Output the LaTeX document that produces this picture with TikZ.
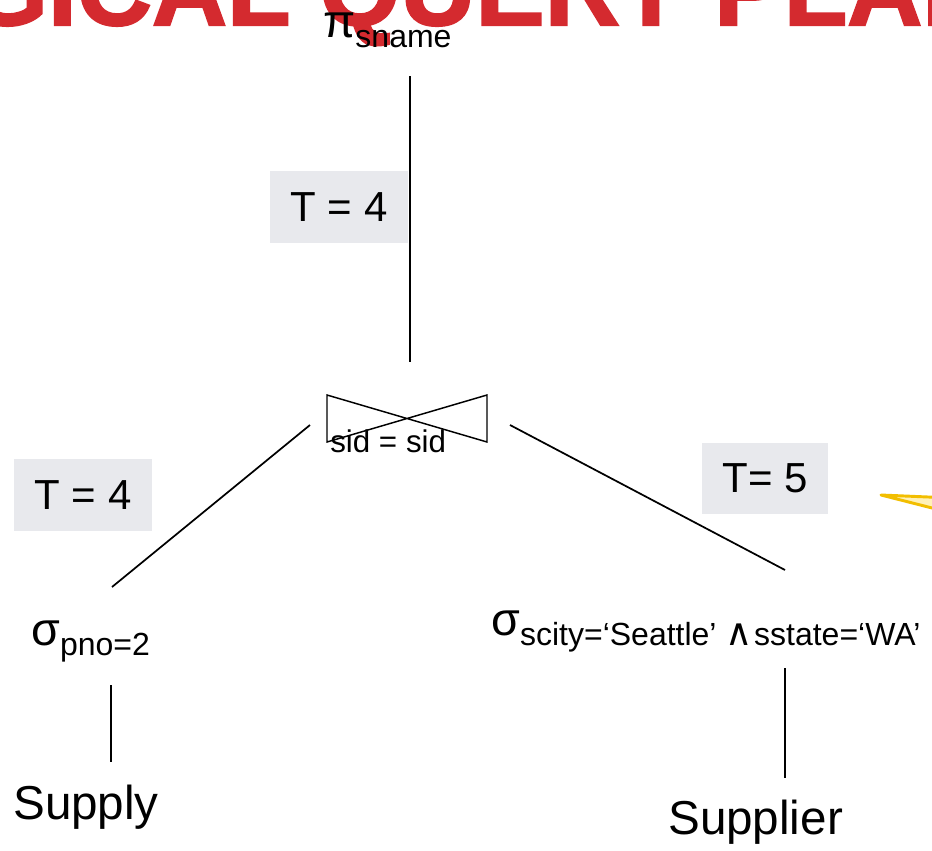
\documentclass[tikz,border=0pt]{standalone}
\usepackage{fontspec}
\setmainfont{Liberation Sans}
\newfontfamily\symfont{DejaVu Sans}
\newfontfamily\titlefont[FakeBold=2]{Liberation Sans Bold}
\definecolor{titlered}{HTML}{D42A2F}
\definecolor{labelgray}{HTML}{E8E9ED}
\definecolor{calloutline}{HTML}{F2BE00}
\definecolor{calloutfill}{HTML}{FFF1B8}
\tikzset{
  optext/.style={inner sep=0pt, anchor=base west, font=\fontsize{35}{40}\selectfont},
  reltext/.style={inner sep=0pt, anchor=base west, font=\fontsize{35.7}{40}\selectfont},
  joincond/.style={inner sep=0pt, anchor=base west, font=\fontsize{23.5}{26}\selectfont},
  costlabel/.style={fill=labelgray, inner sep=0pt, font=\fontsize{31.5}{36}\selectfont},
  treeedge/.style={line width=1.3pt, black},
  callout/.style={draw=calloutline, fill=calloutfill, line width=2.2pt, line join=round},
}
\newcommand{\lowsub}[1]{\raisebox{-7.5pt}{\fontsize{24}{26}\selectfont #1}}
\begin{document}
\begin{tikzpicture}[x=0.75pt,y=-0.75pt]
\useasboundingbox (0,0) rectangle (932,850);
\clip (0,0) rectangle (932,850);

% slide title, running off the top edge
\node[anchor=base, inner sep=0pt, text=titlered,
      font=\fontsize{78}{80}\titlefont] (title) at (410,25) {LOGICAL QUERY PLAN};

% operators
\node[optext] (proj) at (323,37) {π\lowsub{sname}};
\node[optext] (selL) at (31,645) {σ\lowsub{pno=2}};
\node[optext] (selR) at (491,635)
  {σ\lowsub{scity=‘Seattle’ {\symfont\fontsize{28}{28}\selectfont ∧}\hspace{1pt}sstate=‘WA’}};

% join symbol
\coordinate (jTL) at (327,395);
\coordinate (jBL) at (327,442);
\coordinate (jTR) at (487,395);
\coordinate (jBR) at (487,442);
\draw[treeedge, line width=1.1pt] (jTL) -- (jBL) -- (jTR) -- (jBR) -- cycle;
\node[joincond] (cond) at (330,452) {sid = sid};

% base relations
\node[reltext] (supply) at (13,819) {Supply};
\node[reltext] (supplier) at (668,834) {Supplier};

% edge end points
\coordinate (projB) at (410,76);
\coordinate (joinT) at (410,362);
\coordinate (joinL) at (310,425);
\coordinate (joinR) at (510,425);
\coordinate (selLT) at (112,587);
\coordinate (selRT) at (785,570);
\coordinate (selLB) at (111,685);
\coordinate (supplyT) at (111,762);
\coordinate (selRB) at (785,668);
\coordinate (supplierT) at (785,778);

\draw[treeedge] (projB) -- (joinT);
\draw[treeedge] (joinL) -- (selLT);
\draw[treeedge] (joinR) -- (selRT);
\draw[treeedge] (selLB) -- (supplyT);
\draw[treeedge] (selRB) -- (supplierT);

% cardinality labels
\node[costlabel, minimum width=103.5pt, minimum height=54pt] (t1) at (339,207) {T = 4};
\node[costlabel, minimum width=103.5pt, minimum height=54pt] (t2) at (83,495) {T = 4};
\node[costlabel, minimum width=94.5pt, minimum height=53pt] (t3) at (765,478.5) {T= 5};

% tail of a callout entering from the right
\coordinate (tip) at (881,495);
\draw[callout] (tip) -- (940,497.5) -- (940,510) -- cycle;
\end{tikzpicture}
\end{document}
